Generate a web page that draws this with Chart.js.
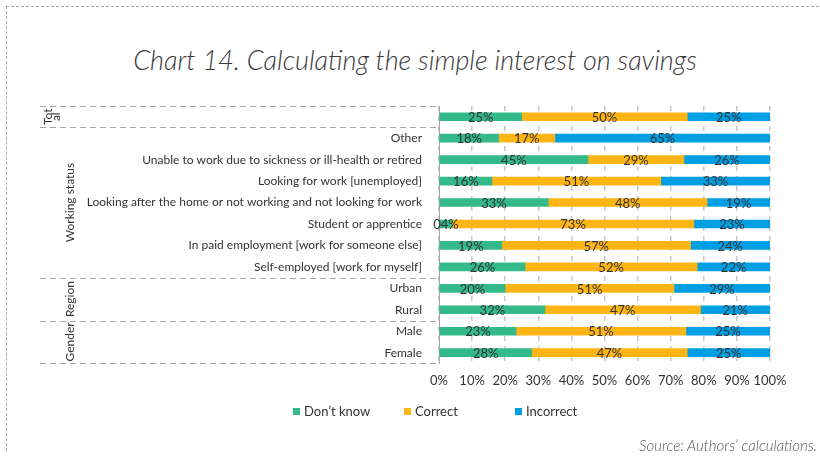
<!DOCTYPE html>
<html>
<head>
<meta charset="utf-8">
<script src="https://cdn.jsdelivr.net/npm/chart.js@4/dist/chart.umd.min.js"></script>
<style>
  body { margin: 0; background: #fff; }
  .wrap { position: relative; width: 820px; height: 457px; overflow: hidden; }
  .frame { position: absolute; left: 6px; top: 6px; right: -4px; bottom: 6px;
           border-top: 1px dashed #a6a6a6; border-left: 1px dashed #a6a6a6; }
  canvas { position: absolute; left: 0; top: 0; }
  .title { position: absolute; left: 0; width: 830px; top: 43px; text-align: center;
           font: italic 300 27px Lato, "Open Sans", sans-serif; color: #3a3a3a; }
  .legend { position: absolute; left: 293px; top: 403px; display: flex;
            font: 13px Lato, sans-serif; color: #333; }
  .legend span.item { display: flex; align-items: center; width: 111px; }
  .legend i { display: inline-block; width: 7px; height: 7px; margin-right: 4px; }
  .source { position: absolute; right: 3px; top: 436px;
            font: italic 300 15px Lato, "Open Sans", sans-serif; color: #555; }
</style>
</head>
<body>
<div class="wrap">
  <div class="frame"></div>
  <div class="title">Chart 14. Calculating the simple interest on savings</div>
  <canvas id="chart" width="820" height="457"></canvas>
  <div class="legend" id="legend"></div>
  <div class="source">Source: Authors’ calculations.</div>
</div>
<script>
// rij-labels (Total heeft geen eigen label, alleen de groepsnaam links)
const categories = [
  '',
  'Other',
  'Unable to work due to sickness or ill-health or retired',
  'Looking for work [unemployed]',
  'Looking after the home or not working and not looking for work',
  'Student or apprentice',
  'In paid employment [work for someone else]',
  'Self-employed [work for myself]',
  'Urban',
  'Rural',
  'Male',
  'Female'
];
const dontKnow  = [25, 18, 45, 16, 33, 4, 19, 26, 20, 32, 23.3, 28];
const correct   = [50, 17, 29, 51, 48, 73, 57, 52, 51, 47, 51.3, 47];
const incorrect = [25, 65, 26, 33, 19, 23, 24, 22, 29, 21, 25.4, 25];
const seriesNames = ["Don’t know", 'Correct', 'Incorrect'];
const seriesColors = ['#33b98a', '#fdb515', '#009fe3'];

// groepen voor de linker kolom: [labelregels, eerste rij, laatste rij]
const groups = [
  [['Tot', 'al'], 0, 0],
  [['Working status'], 1, 7],
  [['Region'], 8, 9],
  [['Gender'], 10, 11]
];

const fontFam = 'Lato, sans-serif';
const textColor = '#333';

// percentages midden in elk segment
const valueLabels = {
  id: 'valueLabels',
  afterDatasetsDraw(chart) {
    const ctx = chart.ctx;
    ctx.save();
    ctx.font = '13px ' + fontFam;
    ctx.fillStyle = textColor;
    ctx.textAlign = 'center';
    ctx.textBaseline = 'middle';
    chart.data.datasets.forEach((ds, i) => {
      chart.getDatasetMeta(i).data.forEach((bar, j) => {
        const txt = String(Math.round(ds.data[j])).padStart(2, '0') + '%';
        ctx.fillText(txt, (bar.x + bar.base) / 2, bar.y + 1);
      });
    });
    ctx.restore();
  }
};

// groepsnamen en gestippelde scheidingslijnen links van de balken
const groupColumn = {
  id: 'groupColumn',
  afterDraw(chart) {
    const ctx = chart.ctx;
    const y = chart.scales.y;
    const area = chart.chartArea;
    const edge = i => i < 0 ? area.top : i >= categories.length - 1 ? area.bottom
      : (y.getPixelForValue(i) + y.getPixelForValue(i + 1)) / 2;
    ctx.save();
    ctx.strokeStyle = '#a6a6a6';
    ctx.lineWidth = 1;
    ctx.setLineDash([6, 4]);
    const lines = [-1];
    groups.forEach(g => lines.push(g[2]));
    lines.forEach(i => {
      const py = Math.round(edge(i)) + 0.5;
      ctx.beginPath();
      ctx.moveTo(40, py);
      ctx.lineTo(area.left, py);
      ctx.stroke();
    });
    ctx.setLineDash([]);
    ctx.fillStyle = textColor;
    ctx.font = '12px ' + fontFam;
    ctx.textAlign = 'center';
    ctx.textBaseline = 'middle';
    groups.forEach(g => {
      const mid = (edge(g[1] - 1) + edge(g[2])) / 2;
      const lh = 8;
      const x = g[0].length > 1 ? 52 : 70;
      ctx.save();
      ctx.translate(x, mid);
      ctx.rotate(-Math.PI / 2);
      g[0].forEach((t, k) => {
        ctx.fillText(t, 0, (k - (g[0].length - 1) / 2) * lh);
      });
      ctx.restore();
    });
    ctx.restore();
  }
};

const chart = new Chart(document.getElementById('chart'), {
  type: 'bar',
  data: {
    labels: categories,
    datasets: [dontKnow, correct, incorrect].map((d, i) => ({
      label: seriesNames[i],
      data: d,
      backgroundColor: seriesColors[i],
      borderWidth: 0,
      barThickness: 8
    }))
  },
  options: {
    indexAxis: 'y',
    responsive: false,
    animation: false,
    layout: { padding: { top: 106, right: 50, bottom: 58, left: 0 } },
    plugins: { legend: { display: false }, tooltip: { enabled: false } },
    scales: {
      x: {
        stacked: true,
        min: 0,
        max: 100,
        ticks: {
          stepSize: 10,
          padding: 10,
          maxRotation: 0,
          autoSkip: false,
          color: textColor,
          font: { family: fontFam, size: 13 },
          callback: v => v + '%'
        },
        grid: { color: '#c8c8c8', lineWidth: 1.5, drawTicks: false },
        border: { display: false, dash: [5, 5] }
      },
      y: {
        stacked: true,
        afterFit: s => { s.width = 439; },
        ticks: {
          padding: 17,
          color: textColor,
          font: { family: fontFam, size: 12 }
        },
        grid: { display: false, drawTicks: false },
        border: { display: true, color: '#a6a6a6', dash: [6, 4] }
      }
    }
  },
  plugins: [valueLabels, groupColumn]
});

// legenda als html, opgebouwd uit de datasets
const legendEl = document.getElementById('legend');
chart.data.datasets.forEach(ds => {
  const item = document.createElement('span');
  item.className = 'item';
  item.innerHTML = '<i style="background:' + ds.backgroundColor + '"></i>' + ds.label;
  legendEl.appendChild(item);
});
</script>
</body>
</html>
